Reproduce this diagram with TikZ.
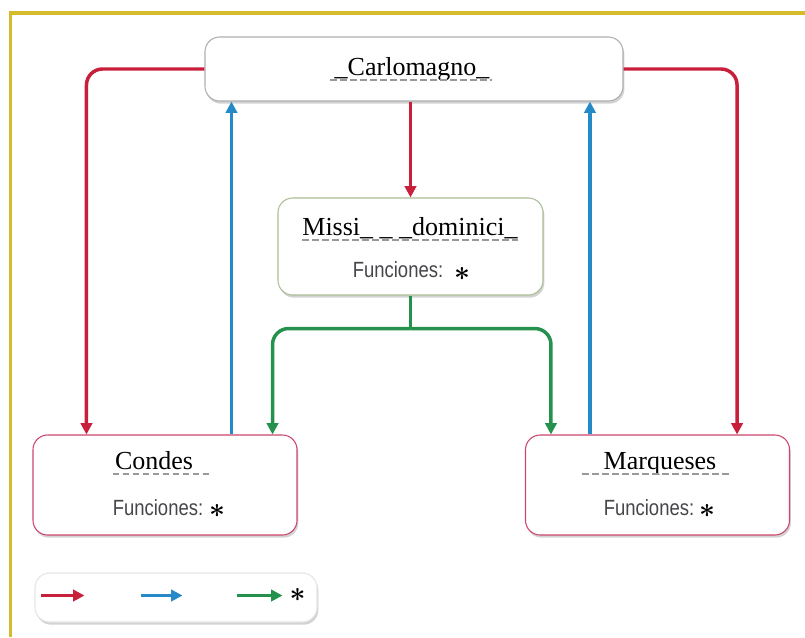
\documentclass[tikz,border=0pt]{standalone}
\usepackage{fontspec}
\setmainfont{Liberation Serif}
\newfontfamily\funcfont[FakeStretch=0.84]{Liberation Sans}
\usetikzlibrary{arrows.meta,calc,shadows}

\definecolor{lineRed}{RGB}{200,32,58}
\definecolor{lineBlue}{RGB}{38,138,200}
\definecolor{lineGreen}{RGB}{36,146,76}
\definecolor{frameYellow}{RGB}{212,188,44}
\definecolor{carloGray}{RGB}{175,175,178}
\definecolor{missiGreen}{RGB}{172,190,150}
\definecolor{boxPink}{RGB}{205,70,110}
\definecolor{funcGray}{RGB}{70,70,74}

\tikzset{
  box/.style={draw=#1,rounded corners=11pt,fill=white,line width=0.8pt,inner sep=0pt,
    drop shadow={shadow xshift=1pt,shadow yshift=-2pt,fill=black!35}},
  link/.style={line width=2.6pt,-{Triangle[length=8.5pt,width=8.5pt]}},
  redline/.style={link,draw=lineRed},
  blueline/.style={link,draw=lineBlue},
  greenline/.style={link,draw=lineGreen},
  title/.style={font=\fontsize{19.5}{22}\selectfont,inner sep=0pt,anchor=base},
  func/.style={font=\funcfont\fontsize{16.5}{18}\selectfont,text=funcGray,inner sep=0pt,anchor=base},
  star/.style={font=\fontsize{20.74}{24}\selectfont\boldmath,inner sep=0pt},
  blank/.style={draw=black!40,line width=1.2pt,dash pattern=on 5pt off 2.5pt}
}

\begin{document}
\begin{tikzpicture}[x=0.75pt,y=0.75pt,yscale=-1]
\useasboundingbox (0,0) rectangle (805,637);
\fill[white] (0,0) rectangle (805,637);

%Frame
\draw[frameYellow,line width=2.4pt] (805,13) -- (10.5,13) -- (10.5,637);

%Shapes: Boxes
\node[box=carloGray,minimum width=313.5pt,minimum height=48pt] (carlo) at (414,69) {};
\node[box=missiGreen,minimum width=198.75pt,minimum height=72.75pt] (missi) at (410.5,246.5) {};
\node[box=boxPink,minimum width=198pt,minimum height=75pt] (condes) at (165,485) {};
\node[box=boxPink,minimum width=198pt,minimum height=75pt] (marq) at (657.5,485) {};
\node[box=black!10,minimum width=211.5pt,minimum height=36.75pt] (legend) at (176,597.5) {};

% Text Node
\node[title] (carloT) at (412,75) {\_Carlomagno\_};
\draw[blank] ($(carloT.base west)+(-4,5)$) -- ($(carloT.base east)+(2,5)$);
% Text Node
\node[title] (missiT) at (410,235) {Missi\_ \_ \_dominici\_};
\draw[blank] ($(missiT.base west)+(0,5)$) -- ($(missiT.base east)+(0,5)$);
\node[func] (missiF) at (398,277) {Funciones:};
\node[star] (missiS) at (462,274) {$\ast$};
% Text Node
\node[title] (condesT) at (154,469) {Condes};
\draw[blank] ($(condesT.base west)+(-2,5)$) -- ($(condesT.base east)+(19,5)$);
\node[func] (condesF) at (158,515) {Funciones:};
\node[star] (condesS) at (217,511) {$\ast$};
% Text Node
\node[title] (marqT) at (660,469) {Marqueses};
\draw[blank] ($(marqT.base west)+(-21,5)$) -- ($(marqT.base east)+(12,5)$);
\node[func] (marqF) at (649,515) {Funciones:};
\node[star] (marqS) at (707,511) {$\ast$};

%Straight Lines
\draw[redline,rounded corners=12pt] (carlo.west) -| ($(condes.north west)+(54,0)$);
\draw[redline,rounded corners=12pt] (carlo.east) -| ($(marq.north east)+(-53,0)$);
\draw[redline] (carlo.south -| missi.north) -- (missi.north);
\draw[blueline] ($(condes.north west)+(199,0)$) coordinate (cUp) -- (cUp |- carlo.south);
\draw[blueline] ($(marq.north west)+(65,0)$) coordinate (mUp) -- (mUp |- carlo.south);
\draw[greenline,-] (missi.south) -- ++(0,33) coordinate (split);
\draw[greenline,rounded corners=12pt] (split) -| ($(condes.north east)+(-25,0)$);
\draw[greenline,rounded corners=12pt] (split) -| ($(marq.north west)+(26,0)$);

%Legend
\draw[redline] ($(legend.west)+(7,-2)$) -- ++(43,0);
\draw[blueline] ($(legend.west)+(107,-2)$) -- ++(41,0);
\draw[greenline] ($(legend.west)+(203,-2)$) -- ++(45,0);
\node[star] (legendS) at ($(legend.west)+(263,-3)$) {$\ast$};

\end{tikzpicture}
\end{document}
